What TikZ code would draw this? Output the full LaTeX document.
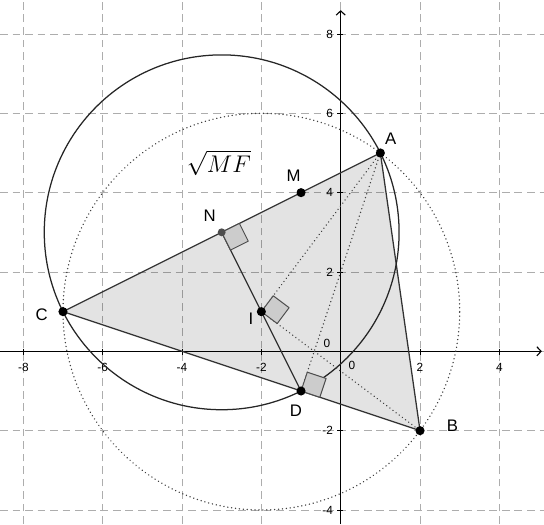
\documentclass[tikz,border=0pt]{standalone}
\usepackage{fontspec}
\setmainfont{Liberation Sans}
\usetikzlibrary{calc,arrows.meta}
\begin{document}
\begin{tikzpicture}[x=1cm,y=1cm,
  gridline/.style={draw=black!32, line width=0.5pt, dash pattern=on 5.5pt off 3.5pt},
  axisline/.style={draw=black, line width=0.8pt},
  axisarrow/.style={axisline, -{Straight Barb[length=3pt,width=6.5pt,line width=0.8pt]}},
  tick/.style={draw=black, line width=0.6pt},
  ticklab/.style={font=\fontsize{8.5}{10}\selectfont, inner sep=0pt},
  ptlab/.style={font=\fontsize{12}{14}\selectfont, inner sep=0pt},
  tri/.style={draw=black!80, line width=0.9pt},
  circ/.style={draw=black!85, line width=0.9pt},
  dotline/.style={draw=black!75, line width=1.1pt, dash pattern=on 0.01pt off 2.8pt, line cap=round},
  seg/.style={draw=black!80, line width=0.9pt},
  sqmark/.style={draw=black!70, fill=black!20, line width=0.7pt, line join=round},
  pt/.style={circle, fill=black, inner sep=0pt, minimum size=0.23cm},
  ptn/.style={circle, fill=black!70, inner sep=0pt, minimum size=0.2cm}
]
\useasboundingbox (-8.588,-4.353) rectangle (5.125,8.856);

% grid
\foreach \x in {-8,-6,-4,-2,0,2,4} \draw[gridline] (\x,-4.353) -- (\x,8.856);
\foreach \y in {-4,-2,0,2,4,6,8} \draw[gridline] (-8.588,\y) -- (5.125,\y);

% axes
\coordinate (xs) at (-8.588,0);
\coordinate (xe) at (5.07,0);
\coordinate (ys) at (0,-4.353);
\coordinate (ye) at (0,8.6);
\draw[axisarrow] (xs) -- (xe);
\draw[axisarrow] (ys) -- (ye);
\foreach \x in {-8,-6,-4,-2,2,4} {
  \draw[tick] (\x,0.07) -- (\x,-0.1);
  \node[ticklab] at (\x,-0.4) {\x};
}
\foreach \y in {-4,-2,2,4,6,8} {
  \draw[tick] (0.05,\y) -- (-0.1,\y);
  \node[ticklab, anchor=east] at (-0.19,\y) {\y};
}
\node[ticklab] (o1) at (-0.35,0.2) {0};
\node[ticklab] (o2) at (0.28,-0.35) {0};

% points
\coordinate (A) at (1,5);
\coordinate (B) at (2,-2);
\coordinate (C) at (-7,1);
\coordinate (D) at (-1,-1);
\coordinate (I) at (-2,1);
\coordinate (M) at (-1,4);
\coordinate (N) at (-3,3);

% triangle
\fill[black, fill opacity=0.11] (A) -- (B) -- (C) -- cycle;
\draw[tri] (A) -- (B) -- (C) -- cycle;

% circles
\draw[circ] (N) circle ({sqrt(20)});
\draw[dotline] (I) circle (5);

% segments
\draw[seg] (N) -- (D);
\draw[dotline] (A) -- (I);
\draw[dotline] (A) -- (D);
\draw[dotline] (I) -- (B);

% right angle marks
\coordinate (na) at ($(N)!0.5cm!(A)$);
\coordinate (nd) at ($(N)!0.5cm!(D)$);
\draw[sqmark] (N) -- (na) -- ($(na)+(nd)-(N)$) -- (nd) -- cycle;
\coordinate (ia) at ($(I)!0.5cm!(A)$);
\coordinate (ib) at ($(I)!0.5cm!(B)$);
\draw[sqmark] (I) -- (ia) -- ($(ia)+(ib)-(I)$) -- (ib) -- cycle;
\coordinate (da) at ($(D)!0.5cm!(A)$);
\coordinate (db) at ($(D)!0.5cm!(B)$);
\draw[sqmark] (D) -- (da) -- ($(da)+(db)-(D)$) -- (db) -- cycle;

% point dots
\node[pt] (pA) at (A) {};
\node[pt] (pB) at (B) {};
\node[pt] (pC) at (C) {};
\node[pt] (pD) at (D) {};
\node[pt] (pI) at (I) {};
\node[pt] (pM) at (M) {};
\node[ptn] (pN) at (N) {};

% labels
\node[ptlab] (lA) at (1.26,5.35) {A};
\node[ptlab] (lB) at (2.82,-1.88) {B};
\node[ptlab] (lC) at (-7.54,0.91) {C};
\node[ptlab] (lD) at (-1.13,-1.5) {D};
\node[ptlab] (lI) at (-2.26,0.81) {I};
\node[ptlab] (lM) at (-1.19,4.42) {M};
\node[ptlab] (lN) at (-3.30,3.41) {N};

\node[inner sep=0pt, font=\fontsize{18}{20}\selectfont] (mf) at (-3.07,4.75) {$\sqrt{MF}$};
\end{tikzpicture}
\end{document}
